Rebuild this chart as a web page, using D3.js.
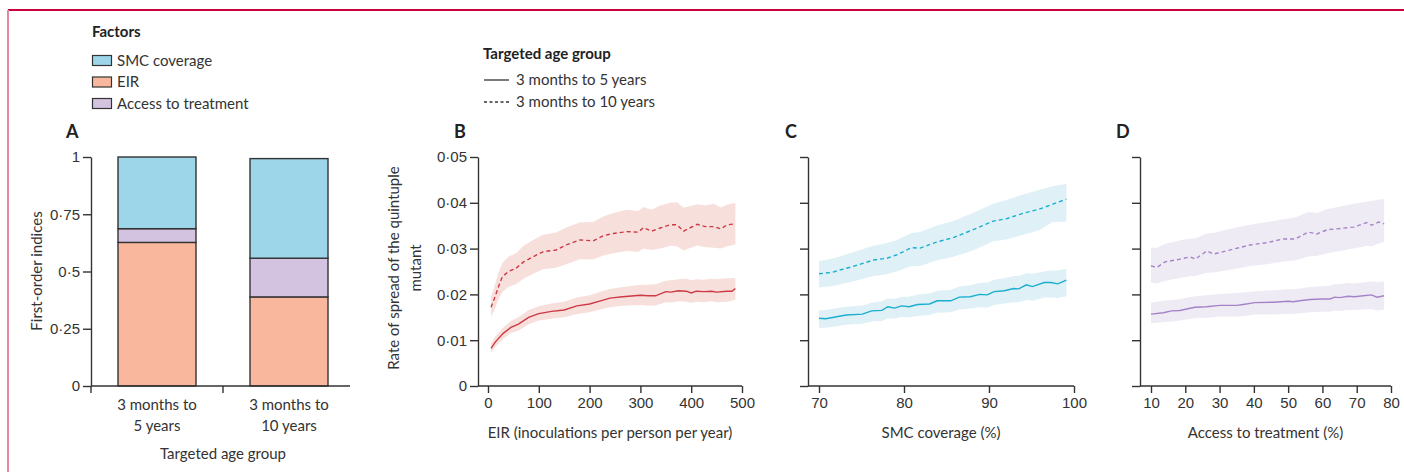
<!DOCTYPE html>
<html>
<head>
<meta charset="utf-8">
<script src="https://cdn.jsdelivr.net/npm/d3@7"></script>
<style>
  body { margin: 0; background: #fff; }
  svg { display: block; font-family: Lato, "Open Sans", sans-serif; }
  .tick text { font-size: 15px; fill: #333; }
  .domain, .tick line { stroke: #333; stroke-width: 1.4; }
</style>
</head>
<body>
<svg id="chart" width="1404" height="472"></svg>
<script>
/* global d3 */

// panel A: first-order indices per age group
let groups = ['3 months to 5 years', '3 months to 10 years'];
let factors = ['EIR', 'Access to treatment', 'SMC coverage'];
let eirIdx = [0.627, 0.389];
let accessIdx = [0.060, 0.169];
let smcIdx = [0.313, 0.435];

// panels B-D: [x, mean, lower, upper]
let eir5 = [
  [6, 0.0082, 0.0072, 0.0093], [15, 0.0097, 0.0086, 0.0109], [30, 0.0115, 0.0103, 0.0128],
  [45, 0.0128, 0.0115, 0.0142], [60, 0.0135, 0.0121, 0.0150], [80, 0.0150, 0.0135, 0.0166],
  [100, 0.0158, 0.0143, 0.0174], [125, 0.0163, 0.0147, 0.0180], [150, 0.0166, 0.0150, 0.0184],
  [175, 0.0175, 0.0157, 0.0193], [200, 0.0179, 0.0161, 0.0198], [225, 0.0187, 0.0168, 0.0207],
  [240, 0.0192, 0.0172, 0.0212], [265, 0.0195, 0.0175, 0.0216], [300, 0.0198, 0.0177, 0.0221],
  [315, 0.0197, 0.0175, 0.0221], [330, 0.0197, 0.0176, 0.0222], [350, 0.0206, 0.0183, 0.0230],
  [360, 0.0205, 0.0182, 0.0231], [375, 0.0208, 0.0185, 0.0233], [390, 0.0207, 0.0184, 0.0234],
  [400, 0.0203, 0.0181, 0.0231], [410, 0.0207, 0.0184, 0.0233], [425, 0.0206, 0.0183, 0.0232],
  [440, 0.0207, 0.0185, 0.0234], [450, 0.0205, 0.0183, 0.0233], [470, 0.0207, 0.0184, 0.0235],
  [480, 0.0207, 0.0186, 0.0235], [487, 0.0213, 0.0189, 0.0236]
];
let eir10 = [
  [6, 0.0172, 0.0150, 0.0195], [14, 0.0195, 0.0170, 0.0222], [20, 0.0215, 0.0187, 0.0245],
  [28, 0.0238, 0.0205, 0.0268], [40, 0.0250, 0.0216, 0.0282], [55, 0.0257, 0.0222, 0.0290],
  [70, 0.0271, 0.0234, 0.0306], [85, 0.0280, 0.0243, 0.0316], [108, 0.0293, 0.0255, 0.0330],
  [134, 0.0297, 0.0258, 0.0335], [154, 0.0308, 0.0266, 0.0346], [181, 0.0319, 0.0277, 0.0357],
  [207, 0.0317, 0.0276, 0.0358], [227, 0.0328, 0.0285, 0.0370], [247, 0.0333, 0.0290, 0.0378],
  [273, 0.0337, 0.0295, 0.0385], [296, 0.0336, 0.0293, 0.0382], [306, 0.0346, 0.0300, 0.0391],
  [322, 0.0338, 0.0297, 0.0385], [339, 0.0345, 0.0300, 0.0394], [359, 0.0352, 0.0306, 0.0400],
  [372, 0.0352, 0.0305, 0.0401], [385, 0.0338, 0.0296, 0.0389], [395, 0.0344, 0.0300, 0.0392],
  [412, 0.0353, 0.0307, 0.0397], [428, 0.0348, 0.0303, 0.0394], [445, 0.0348, 0.0302, 0.0398],
  [458, 0.0343, 0.0300, 0.0390], [471, 0.0352, 0.0305, 0.0396], [487, 0.0354, 0.0309, 0.0400]
];
let smc5 = [
  [70, 0.0148, 0.0127, 0.0165], [70.8, 0.0147, 0.0127, 0.0166], [73.2, 0.0155, 0.0134, 0.0173],
  [75.1, 0.0157, 0.0136, 0.0176], [76.2, 0.0164, 0.0141, 0.0182], [77.4, 0.0165, 0.0142, 0.0185],
  [78.1, 0.0173, 0.0148, 0.0191], [78.9, 0.0170, 0.0147, 0.0190], [79.7, 0.0175, 0.0151, 0.0195],
  [80.6, 0.0173, 0.0150, 0.0195], [81.6, 0.0178, 0.0153, 0.0200], [83.0, 0.0179, 0.0155, 0.0202],
  [83.9, 0.0186, 0.0160, 0.0208], [85.5, 0.0186, 0.0161, 0.0210], [86.5, 0.0194, 0.0167, 0.0217],
  [87.8, 0.0195, 0.0169, 0.0220], [88.9, 0.0200, 0.0172, 0.0225], [89.8, 0.0199, 0.0171, 0.0226],
  [90.6, 0.0206, 0.0177, 0.0232], [91.8, 0.0208, 0.0180, 0.0235], [92.9, 0.0213, 0.0183, 0.0240],
  [93.5, 0.0212, 0.0183, 0.0240], [94.4, 0.0221, 0.0188, 0.0246], [95.1, 0.0217, 0.0186, 0.0245],
  [96.5, 0.0226, 0.0193, 0.0250], [97.3, 0.0226, 0.0193, 0.0252], [98.1, 0.0223, 0.0192, 0.0252],
  [99.1, 0.0231, 0.0196, 0.0256]
];
let smc10 = [
  [70, 0.0245, 0.0215, 0.0273], [71.5, 0.0248, 0.0218, 0.0278], [72.8, 0.0255, 0.0223, 0.0285],
  [74.0, 0.0261, 0.0228, 0.0292], [76.4, 0.0275, 0.0240, 0.0306], [78.0, 0.0279, 0.0244, 0.0312],
  [79.1, 0.0286, 0.0250, 0.0318], [80.9, 0.0302, 0.0262, 0.0334], [81.9, 0.0301, 0.0262, 0.0336],
  [83.8, 0.0314, 0.0274, 0.0350], [85.8, 0.0324, 0.0282, 0.0360], [88.1, 0.0341, 0.0296, 0.0378],
  [90.5, 0.0360, 0.0316, 0.0398], [92.0, 0.0365, 0.0320, 0.0406], [94.0, 0.0377, 0.0330, 0.0418],
  [95.9, 0.0386, 0.0340, 0.0428], [97.5, 0.0397, 0.0358, 0.0436], [99.1, 0.0408, 0.0359, 0.0441]
];
let act5 = [
  [10, 0.0157, 0.0137, 0.0182], [13.6, 0.0160, 0.0139, 0.0186], [16.0, 0.0164, 0.0141, 0.0188],
  [18.4, 0.0165, 0.0143, 0.0190], [22.8, 0.0172, 0.0148, 0.0196], [26.2, 0.0173, 0.0149, 0.0198],
  [30.1, 0.0176, 0.0152, 0.0201], [35.0, 0.0176, 0.0152, 0.0203], [36.9, 0.0178, 0.0153, 0.0204],
  [40.3, 0.0182, 0.0156, 0.0207], [45.7, 0.0183, 0.0156, 0.0209], [50.0, 0.0185, 0.0158, 0.0211],
  [51.5, 0.0184, 0.0157, 0.0211], [53.4, 0.0186, 0.0159, 0.0213], [56.4, 0.0189, 0.0161, 0.0216],
  [59.8, 0.0190, 0.0162, 0.0218], [62.2, 0.0190, 0.0162, 0.0219], [63.6, 0.0194, 0.0165, 0.0222],
  [65.1, 0.0193, 0.0164, 0.0222], [67.5, 0.0196, 0.0166, 0.0225], [69.4, 0.0195, 0.0166, 0.0224],
  [71.9, 0.0197, 0.0167, 0.0226], [74.3, 0.0199, 0.0168, 0.0228], [75.9, 0.0194, 0.0165, 0.0227],
  [78.0, 0.0197, 0.0167, 0.0228]
];
let act10 = [
  [10, 0.0262, 0.0226, 0.0302], [11.7, 0.0259, 0.0224, 0.0302], [14.1, 0.0271, 0.0230, 0.0310],
  [18.5, 0.0277, 0.0236, 0.0318], [21.4, 0.0282, 0.0240, 0.0322], [22.9, 0.0277, 0.0240, 0.0322],
  [26.3, 0.0295, 0.0247, 0.0333], [28.2, 0.0288, 0.0248, 0.0334], [34.1, 0.0299, 0.0255, 0.0345],
  [38.9, 0.0308, 0.0262, 0.0352], [43.8, 0.0313, 0.0266, 0.0358], [48.6, 0.0321, 0.0272, 0.0364],
  [52.0, 0.0321, 0.0274, 0.0368], [55.9, 0.0336, 0.0283, 0.0380], [58.4, 0.0332, 0.0284, 0.0378],
  [61.3, 0.0341, 0.0290, 0.0386], [65.2, 0.0344, 0.0295, 0.0392], [69.1, 0.0347, 0.0300, 0.0398],
  [73.0, 0.0357, 0.0306, 0.0403], [74.4, 0.0351, 0.0305, 0.0404], [76.4, 0.0358, 0.0311, 0.0407],
  [78.0, 0.0354, 0.0315, 0.0408]
];

let yTicks = [0, 0.01, 0.02, 0.03, 0.04, 0.05];
let eirTicks = [0, 100, 200, 300, 400, 500];
let smcTicks = [70, 80, 90, 100];
let actTicks = [10, 20, 30, 40, 50, 60, 70, 80];

let fmt = (d) => String(d).replace('.', '\u00b7');

let svg = d3.select('#chart');
let plotTop = 157, plotBottom = 386;
let fs = 15;

// frame
svg.append('line').attr('x1', 8).attr('x2', 1404).attr('y1', 10).attr('y2', 10)
  .attr('stroke', '#c8003c').attr('stroke-width', 2);
svg.append('line').attr('x1', 8).attr('x2', 8).attr('y1', 10).attr('y2', 472)
  .attr('stroke', '#e6869f').attr('stroke-width', 2);

// legend: factors
let factorColor = { 'SMC coverage': '#9dd6e8', 'EIR': '#f9b89e', 'Access to treatment': '#d3c3e0' };
svg.append('text').attr('x', 92).attr('y', 37).attr('font-size', fs).attr('font-weight', 'bold')
  .attr('fill', '#222').text('Factors');
['SMC coverage', 'EIR', 'Access to treatment'].forEach((f, i) => {
  svg.append('rect').attr('x', 92.5).attr('y', 55.5 + i * 21.5).attr('width', 19).attr('height', 10)
    .attr('fill', factorColor[f]).attr('stroke', '#333').attr('stroke-width', 1.2);
  svg.append('text').attr('x', 117).attr('y', 65.5 + i * 21.5).attr('font-size', fs)
    .attr('fill', '#333').text(f);
});

// legend: age groups
svg.append('text').attr('x', 483).attr('y', 59).attr('font-size', fs).attr('font-weight', 'bold')
  .attr('fill', '#222').text('Targeted age group');
[['3 months to 5 years', null], ['3 months to 10 years', '3,2.5']].forEach((g, i) => {
  svg.append('line').attr('x1', 484).attr('x2', 509).attr('y1', 80 + i * 22).attr('y2', 80 + i * 22)
    .attr('stroke', '#333').attr('stroke-width', 1.3).attr('stroke-dasharray', g[1]);
  svg.append('text').attr('x', 516).attr('y', 85 + i * 22).attr('font-size', fs)
    .attr('fill', '#333').text(g[0]);
});

// panel letters
[['A', 66], ['B', 454], ['C', 785], ['D', 1116]].forEach((p) => {
  svg.append('text').attr('x', p[1]).attr('y', 138).attr('font-size', 18).attr('font-weight', 'bold')
    .attr('fill', '#222').text(p[0]);
});

// ---- panel A ----
let xA = d3.scaleBand().domain(groups).range([91, 355]).paddingInner(0).paddingOuter(0);
let yA = d3.scaleLinear().domain([0, 1]).range([plotBottom, plotTop]);
let stackRows = groups.map((g, i) => ({
  group: g, 'EIR': eirIdx[i], 'Access to treatment': accessIdx[i], 'SMC coverage': smcIdx[i]
}));
let stacked = d3.stack().keys(factors)(stackRows);
let barW = 78;
stacked.forEach((layer) => {
  svg.append('g').selectAll('rect').data(layer).enter().append('rect')
    .attr('x', (d) => xA(d.data.group) + xA.bandwidth() / 2 - barW / 2)
    .attr('y', (d) => yA(d[1]))
    .attr('width', barW)
    .attr('height', (d) => yA(d[0]) - yA(d[1]))
    .attr('fill', factorColor[layer.key])
    .attr('stroke', '#333').attr('stroke-width', 1.4);
});
svg.append('g').attr('transform', 'translate(91,0)')
  .call(d3.axisLeft(yA).tickValues([0, 0.25, 0.5, 0.75, 1]).tickFormat(fmt).tickSize(8).tickSizeOuter(0))
  .selectAll('.tick text').attr('x', -11);
let gxA = svg.append('g').attr('transform', `translate(0,${plotBottom})`);
gxA.append('line').attr('x1', 91).attr('x2', 350).attr('y1', 0).attr('y2', 0)
  .attr('stroke', '#333').attr('stroke-width', 1.4);
[91, xA(groups[1])].forEach((x) => {
  gxA.append('line').attr('x1', x).attr('x2', x).attr('y1', 0).attr('y2', 7)
    .attr('stroke', '#333').attr('stroke-width', 1.4);
});
groups.forEach((g) => {
  let cx = xA(g) + xA.bandwidth() / 2;
  let parts = g.split(' to ');
  gxA.append('text').attr('x', cx).attr('y', 24).attr('text-anchor', 'middle').attr('font-size', fs)
    .attr('fill', '#333').text(parts[0] + ' to');
  gxA.append('text').attr('x', cx).attr('y', 45).attr('text-anchor', 'middle').attr('font-size', fs)
    .attr('fill', '#333').text(parts[1]);
});
svg.append('text').attr('x', 223).attr('y', 459).attr('text-anchor', 'middle').attr('font-size', fs)
  .attr('fill', '#333').text('Targeted age group');
svg.append('text').attr('transform', 'translate(42,271) rotate(-90)').attr('text-anchor', 'middle')
  .attr('font-size', fs).attr('fill', '#333').text('First-order indices');

// ---- line panels ----
function linePanel(opts) {
  let x = d3.scaleLinear().domain(opts.domain).range(opts.range);
  let y = d3.scaleLinear().domain([0, 0.05]).range([plotBottom, plotTop]);
  let g = svg.append('g');

  [opts.solid, opts.dashed].forEach((rows) => {
    let area = d3.area().x((d) => x(d[0])).y0((d) => y(d[2])).y1((d) => y(d[3]));
    g.append('path').datum(rows).attr('d', area).attr('fill', opts.band);
  });
  [opts.solid, opts.dashed].forEach((rows, k) => {
    let line = d3.line().x((d) => x(d[0])).y((d) => y(d[1]));
    g.append('path').datum(rows).attr('d', line).attr('fill', 'none')
      .attr('stroke', opts.color).attr('stroke-width', 1.4)
      .attr('stroke-dasharray', k === 1 ? '4,3' : null);
  });

  let yAxis = d3.axisLeft(y).tickValues(yTicks).tickSize(8).tickSizeOuter(0)
    .tickFormat(opts.labels ? fmt : () => '');
  let gy = svg.append('g').attr('transform', `translate(${opts.axisX},0)`).call(yAxis);
  gy.selectAll('.tick text').attr('x', -11);

  let xAxis = d3.axisBottom(x).tickValues(opts.ticks).tickSize(7).tickSizeOuter(0);
  let gx = svg.append('g').attr('transform', `translate(0,${plotBottom})`).call(xAxis);
  gx.select('.domain').attr('d', `M${opts.axisX},0H${opts.range[1]}`);
  gx.selectAll('.tick text').attr('y', 11);

  svg.append('text').attr('x', (opts.axisX + opts.range[1]) / 2).attr('y', 438)
    .attr('text-anchor', 'middle').attr('font-size', fs).attr('fill', '#333').text(opts.title);
}

linePanel({
  solid: eir5, dashed: eir10, domain: [0, 500], range: [488, 742], axisX: 478,
  ticks: eirTicks, color: '#cc3a44', band: '#f7dfdc', labels: true,
  title: 'EIR (inoculations per person per year)'
});
linePanel({
  solid: smc5, dashed: smc10, domain: [70, 100], range: [819, 1074], axisX: 808,
  ticks: smcTicks, color: '#1aaed0', band: '#dff0f7', labels: false,
  title: 'SMC coverage (%)'
});
linePanel({
  solid: act5, dashed: act10, domain: [10, 80], range: [1151, 1391], axisX: 1140,
  ticks: actTicks, color: '#a484c8', band: '#efebf5', labels: false,
  title: 'Access to treatment (%)'
});

svg.append('text').attr('transform', 'translate(399,268) rotate(-90)').attr('text-anchor', 'middle')
  .attr('font-size', fs).attr('fill', '#333').text('Rate of spread of the quintuple');
svg.append('text').attr('transform', 'translate(421,268) rotate(-90)').attr('text-anchor', 'middle')
  .attr('font-size', fs).attr('fill', '#333').text('mutant');
</script>
</body>
</html>
